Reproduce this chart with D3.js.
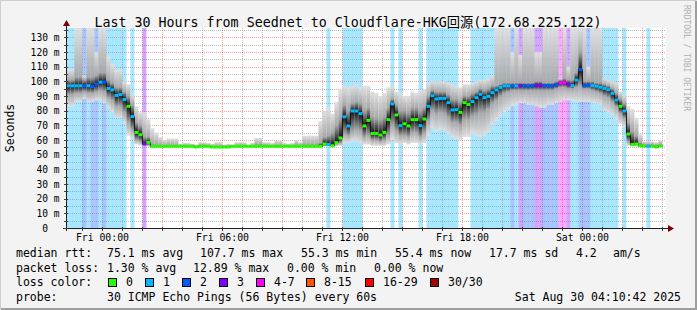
<!DOCTYPE html>
<html>
<head>
<meta charset="utf-8">
<script src="https://cdn.jsdelivr.net/npm/d3@7"></script>
<style>
  body { margin: 0; background: #f3f3f3; }
  svg { display: block; }
  text { font-family: "DejaVu Sans Mono", "Noto Sans CJK SC", monospace; white-space: pre; }
</style>
</head>
<body>
<svg id="chart" width="697" height="310"></svg>
<script>
// ---- data (one value per 12 minute step, first step starts Thu 22:12) ----
var graphEnd = new Date(2025, 7, 30, 4, 10, 42);
var graphStart = new Date(graphEnd.getTime() - 30 * 3600 * 1000);
var firstStep = new Date(2025, 7, 28, 22, 12, 0);
var stepMinutes = 12;

var median = [
  97, 97, 97, 97, 97, 97, 96.5, 98.2, 99.5, 99.5,
  95.2, 94.2, 90.4, 91, 87.6, 83, 76, 65.2, 63.6, 57.3,
  58.4, 55.7, 55.7, 55.7, 55.7, 55.7, 55.7, 55.7, 55.7, 55.7,
  55.7, 55.7, 55.2, 55.7, 55.7, 55.7, 55.2, 55.2, 55.2, 55.2,
  55.2, 55.7, 55.7, 55.7, 55.7, 55.7, 55.7, 55.7, 55.7, 55.7,
  55.7, 55.7, 55.7, 55.7, 55.7, 55.7, 55.7, 55.7, 55.7, 55.7,
  55.7, 55.7, 55.7, 55.7, 57.3, 57, 56.1, 58.2, 61.4, 75.8,
  69.6, 79.8, 79.8, 78, 69.6, 73.4, 64.5, 64.5, 63.4, 65.2,
  73.9, 84.6, 77.1, 69.8, 71.1, 69.6, 73.9, 73.9, 69.8, 74.3,
  83, 90.2, 88, 88.4, 88.4, 85.5, 80.5, 80.7, 78.9, 85.5,
  84.3, 86.2, 88.9, 91.2, 88.9, 89.8, 92.3, 94.1, 95.9, 96.9,
  96.9, 96.7, 96.9, 97.1, 97.1, 96.7, 97.1, 97.3, 97.3, 97.1,
  97.1, 97.1, 97.7, 98.9, 99.1, 98, 97.1, 100.9, 108, 97.1,
  97.4, 97.1, 96.7, 96, 95.2, 94.3, 91.8, 87.3, 83, 79.8,
  64.1, 57, 57.3, 56.1, 55.8, 55.8, 55.8, 55.2, 56
];

// lost pings (of 30) per step
var loss = [
  1, 1, 1, 1, 2, 1, 2, 2, 1, 2,
  1, 1, 1, 1, 1, 0, 1, 0, 0, 3,
  0, 0, 0, 0, 0, 0, 0, 0, 0, 0,
  0, 0, 0, 0, 0, 0, 0, 0, 0, 0,
  0, 0, 0, 0, 0, 0, 0, 0, 0, 0,
  0, 0, 0, 0, 0, 0, 0, 0, 0, 0,
  0, 0, 0, 0, 0, 1, 0, 0, 0, 1,
  1, 1, 1, 1, 0, 0, 0, 0, 0, 0,
  0, 1, 0, 1, 0, 0, 0, 0, 1, 0,
  1, 1, 1, 1, 1, 1, 1, 1, 0, 0,
  0, 1, 1, 1, 1, 1, 1, 1, 1, 1,
  1, 2, 1, 3, 2, 2, 2, 3, 3, 2,
  2, 2, 2, 4, 4, 3, 1, 1, 2, 2,
  2, 1, 1, 1, 1, 1, 1, 1, 0, 1,
  0, 0, 0, 0, 0, 1, 0, 0, 0
];

// smoke: lowest ping, lower quartile, upper quartile, highest ping
var smokeLo = [
  83, 83, 86, 86, 88, 86, 86, 87, 87, 85,
  82, 79, 75, 75, 71, 63, 61, 57, 56.5, 56,
  55.5, 55.3, 55.3, 55.3, 55.3, 55.3, 55.3, 55.3, 55.3, 55.3,
  55.3, 55.3, 55, 55.3, 55.3, 55.3, 55, 55, 55, 55,
  55, 55.3, 55.3, 55.3, 55.3, 55.3, 55.3, 55.3, 55.3, 55.3,
  55.3, 55.3, 55.3, 55.3, 55.3, 55.3, 55.3, 55.3, 55.3, 55.3,
  55.3, 55.3, 55.3, 55.3, 55.5, 55.5, 55.5, 56, 56, 58,
  58, 59, 59, 58, 57, 57, 56, 56, 56, 56,
  57, 60, 58, 57, 58, 57, 58, 58, 57, 58,
  63, 68, 66, 67, 66, 64, 62, 61, 60, 62,
  62, 64, 63, 62, 63, 65, 70, 73, 76, 79,
  81, 83, 84, 85, 85, 84, 84, 83, 82, 82,
  84, 84, 85, 86, 87, 87, 87, 86, 86, 86,
  86, 85, 85, 84, 80, 79, 77, 74, 71, 69,
  56, 55.5, 55.5, 55.3, 55.3, 55.3, 55.3, 55, 55.3
];
var smokeQ1 = [
  91, 91, 92, 92, 93, 92, 92, 93, 94, 93,
  89, 87, 83, 83, 79, 72, 67, 60, 59, 56.5,
  56.5, 55.5, 55.5, 55.5, 55.5, 55.5, 55.5, 55.5, 55.5, 55.5,
  55.5, 55.5, 55.1, 55.5, 55.5, 55.5, 55.1, 55.1, 55.1, 55.1,
  55.1, 55.5, 55.5, 55.5, 55.5, 55.5, 55.5, 55.5, 55.5, 55.5,
  55.5, 55.5, 55.5, 55.5, 55.5, 55.5, 55.5, 55.5, 55.5, 55.5,
  55.5, 55.5, 55.5, 55.5, 56, 56, 56, 57, 58, 64,
  63, 66, 67, 66, 62, 63, 60, 60, 59, 60,
  63, 70, 66, 63, 63, 62, 65, 65, 62, 65,
  73, 80, 78, 79, 78, 75, 72, 72, 70, 74,
  74, 76, 77, 79, 79, 81, 85, 87, 90, 92,
  93, 94, 94, 94, 94, 94, 94, 94, 94, 94,
  94, 94, 95, 96, 96, 95, 95, 96, 97, 95,
  95, 94, 93, 92, 90, 89, 86, 83, 78, 75,
  59, 56.5, 56.5, 55.8, 55.5, 55.5, 55.5, 55.1, 55.5
];
var smokeQ3 = [
  101, 101, 103, 103, 101, 103, 103, 104, 106, 106,
  101, 99, 96, 96, 93, 90, 84, 72, 70, 62,
  62, 57, 57, 56.5, 56.5, 56.8, 56.8, 56.5, 56.3, 56.3,
  56.3, 56.3, 56, 56.5, 56.5, 56.3, 56, 56, 56, 56,
  56, 56.3, 56.3, 56.5, 56.3, 56.3, 56.3, 57, 57, 56.5,
  56.5, 56.3, 56.5, 56.5, 56.3, 56.3, 56.3, 56.8, 56.5, 57,
  57, 57, 57, 58, 62, 63, 65, 70, 75, 84,
  80, 85, 86, 85, 80, 82, 76, 75, 74, 76,
  82, 88, 84, 80, 80, 79, 82, 82, 80, 82,
  90, 94, 93, 93, 93, 91, 88, 88, 86, 90,
  90, 92, 93, 95, 94, 95, 97, 97, 98, 99,
  99, 99, 99, 99, 99, 99, 99, 100, 100, 99,
  99, 99, 100, 101, 102, 101, 101, 106, 120, 100,
  100, 100, 99, 99, 98, 97, 95, 92, 88, 85,
  72, 66, 63, 58, 57, 57, 57, 56.5, 57
];
var smokeHi = [
  108, 108, 137, 137, 104, 137, 137, 120, 137, 137,
  117, 112, 108, 108, 100, 98, 91, 83, 79, 79,
  74, 68, 65, 62, 60, 61, 61, 61, 57.5, 58,
  58, 57.5, 57, 58.5, 58.5, 58, 57.5, 58.5, 58.5, 57,
  57.5, 57, 58.5, 58.5, 58.5, 57, 58, 61.5, 61.5, 58.5,
  58.5, 58, 59.5, 59.5, 58, 57.5, 58, 60, 58.5, 63,
  63, 63, 63, 73, 80, 82, 78, 86, 95, 97,
  96, 97, 98, 96, 97, 97, 93, 92, 90, 92,
  96, 97, 93, 92, 90, 90, 93, 92, 94, 95,
  99, 100, 100, 100, 100, 99, 98, 97, 96, 98,
  98, 99, 100, 101, 101, 102, 104, 137, 137, 137,
  137, 120, 137, 118, 137, 137, 137, 120, 120, 137,
  137, 137, 137, 102, 137, 110, 137, 137, 137, 137,
  110, 137, 137, 137, 102, 101, 100, 99, 93, 91,
  83, 81, 75, 64, 59, 59, 59, 58.5, 60
];

var yTicks = [0, 10, 20, 30, 40, 50, 60, 70, 80, 90, 100, 110, 120, 130];
var xLabelTimes = [new Date(2025, 7, 29, 0), new Date(2025, 7, 29, 6), new Date(2025, 7, 29, 12),
                   new Date(2025, 7, 29, 18), new Date(2025, 7, 30, 0)];

var lossLegend = [
  { label: "0", color: "#26ff00" },
  { label: "1", color: "#00b8ff" },
  { label: "2", color: "#0059ff" },
  { label: "3", color: "#7e00ff" },
  { label: "4-7", color: "#ff00ff" },
  { label: "8-15", color: "#ff5500" },
  { label: "16-29", color: "#ff0000" },
  { label: "30/30", color: "#a00000" }
];
var legendBoxX = [108, 145, 182, 219, 256, 306, 365, 430];

var rttRow = ["75.1 ms avg", "107.7 ms max", "55.3 ms min", "55.4 ms now", "17.7 ms sd", "4.2", "am/s"];
var rttX = [107, 200, 301, 395, 489, 576, 613];
var lossRow = ["1.30 % avg", "12.89 % max", "0.00 % min", "0.00 % now"];
var lossX = [107, 193, 287, 374];

// ---- drawing ----
var W = 697, H = 310;
var plotL = 66, plotR = 666, plotT = 28, plotB = 228;

var svg = d3.select("#chart");
var defs = svg.append("defs");

var x = d3.scaleTime().domain([graphStart, graphEnd]).range([plotL, plotR]);
var y = d3.scaleLinear().domain([0, 136.4]).range([plotB, plotT]).clamp(true);

function lossColor(n) {
  if (n >= 30) return "#a00000";
  if (n >= 16) return "#ff0000";
  if (n >= 8) return "#ff5500";
  if (n >= 4) return "#ff00ff";
  return ["#26ff00", "#00b8ff", "#0059ff", "#7e00ff"][n];
}

// background + frame shading
svg.append("rect").attr("width", W).attr("height", H).attr("fill", "#f3f3f3");
svg.append("path").attr("d", "M0.5,309.5V0.5H696.5").attr("fill", "none").attr("stroke", "#cfcfcf").attr("stroke-width", 1);
svg.append("path").attr("d", "M1,309H696V1").attr("fill", "none").attr("stroke", "#9e9e9e").attr("stroke-width", 2);

svg.append("rect").attr("x", plotL).attr("y", plotT).attr("width", plotR - plotL).attr("height", plotB - plotT)
  .attr("fill", "#ffffff");

var steps = median.map(function(m, i) {
  var t0 = new Date(firstStep.getTime() + i * stepMinutes * 60000);
  var t1 = new Date(t0.getTime() + stepMinutes * 60000);
  return { i: i, t0: t0, t1: t1, med: m, loss: loss[i],
           lo: smokeLo[i], q1: smokeQ1[i], q3: smokeQ3[i], hi: smokeHi[i] };
});

// grid (under the graph, rrdtool style)
var grid = svg.append("g").attr("fill", "none").attr("stroke-dasharray", "1,1").attr("shape-rendering", "crispEdges");
var hours = d3.timeHour.range(d3.timeHour.ceil(graphStart), graphEnd);
hours.forEach(function(h) {
  var major = h.getHours() % 3 === 0;
  var px = Math.round(x(h)) + 0.5;
  grid.append("line").attr("x1", px).attr("x2", px).attr("y1", plotT).attr("y2", plotB)
    .attr("stroke", major ? "rgba(255,0,0,0.38)" : "rgba(127,127,127,0.5)");
});
d3.range(5, 136, 5).forEach(function(v) {
  var major = v % 10 === 0;
  var py = Math.round(y(v)) + 0.5;
  grid.append("line").attr("x1", plotL).attr("x2", plotR).attr("y1", py).attr("y2", py)
    .attr("stroke", major ? "rgba(255,0,0,0.38)" : "rgba(127,127,127,0.5)");
});

var g = svg.append("g");

// loss bars, translucent
g.selectAll("rect.lossbar").data(steps.filter(function(d) { return d.loss > 0; }))
  .enter().append("rect")
  .attr("class", "lossbar")
  .attr("x", function(d) { return x(d.t0); })
  .attr("width", function(d) { return x(d.t1) - x(d.t0); })
  .attr("y", plotT).attr("height", plotB - plotT)
  .attr("fill", function(d) { return lossColor(d.loss); })
  .attr("fill-opacity", 0.35);

// smoke gradients
steps.forEach(function(d) {
  var top = y(d.hi), bot = y(d.lo), span = Math.max(bot - top, 0.01);
  var off = function(v) { return Math.min(1, Math.max(0, (y(v) - top) / span)); };
  var gr = defs.append("linearGradient").attr("id", "smoke" + d.i)
    .attr("gradientUnits", "userSpaceOnUse")
    .attr("x1", 0).attr("x2", 0).attr("y1", top).attr("y2", bot);
  [[0, "#e0e0e0"], [off(d.q3), "#a8a8a8"], [off(d.med), "#101010"], [off(d.q1), "#a8a8a8"], [1, "#e0e0e0"]]
    .forEach(function(s) { gr.append("stop").attr("offset", s[0]).attr("stop-color", s[1]); });
});

g.selectAll("rect.smoke").data(steps).enter().append("rect")
  .attr("class", "smoke")
  .attr("x", function(d) { return x(d.t0); })
  .attr("width", function(d) { return x(d.t1) - x(d.t0); })
  .attr("y", function(d) { return y(d.hi); })
  .attr("height", function(d) { return y(d.lo) - y(d.hi); })
  .attr("fill", function(d) { return "url(#smoke" + d.i + ")"; });

// median line + loss coloured markers
var last = steps[steps.length - 1];
var pts = steps.map(function(d) { return [x(d.t0), y(d.med)]; }).concat([[x(last.t1), y(last.med)]]);
svg.append("path").attr("d", d3.line().curve(d3.curveStepAfter)(pts))
  .attr("fill", "none").attr("stroke", "#101010").attr("stroke-width", 1);

svg.selectAll("rect.med").data(steps).enter().append("rect")
  .attr("class", "med")
  .attr("x", function(d) { return x(d.t0); })
  .attr("width", function(d) { return x(d.t1) - x(d.t0); })
  .attr("y", function(d) { return y(d.med) - 1.5; })
  .attr("height", 3)
  .attr("fill", function(d) { return lossColor(d.loss); });

// axes
var ax = svg.append("g").attr("shape-rendering", "crispEdges");
ax.append("line").attr("x1", plotL - 3).attr("x2", plotR + 3).attr("y1", plotB + 0.5).attr("y2", plotB + 0.5).attr("stroke", "#202020");
ax.append("line").attr("x1", plotL + 0.5).attr("x2", plotL + 0.5).attr("y1", plotB + 3).attr("y2", plotT - 3).attr("stroke", "#202020");
hours.forEach(function(h) {
  var px = Math.round(x(h)) + 0.5;
  ax.append("line").attr("x1", px).attr("x2", px).attr("y1", plotB - 1).attr("y2", plotB + 3).attr("stroke", "#404040");
});
d3.range(0, 136, 5).forEach(function(v) {
  var py = Math.round(y(v)) + 0.5;
  ax.append("line").attr("x1", plotL - 2).attr("x2", plotL + 2).attr("y1", py).attr("y2", py).attr("stroke", "#404040");
});
svg.append("path").attr("d", "M" + (plotR + 2) + "," + (plotB - 3) + "L" + (plotR + 8) + "," + (plotB + 0.5) + "L" + (plotR + 2) + "," + (plotB + 4) + "Z").attr("fill", "#7f0000");
svg.append("path").attr("d", "M" + (plotL - 3) + "," + (plotT - 2) + "L" + (plotL + 0.5) + "," + (plotT - 8) + "L" + (plotL + 4) + "," + (plotT - 2) + "Z").attr("fill", "#7f0000");

// axis labels
svg.selectAll("text.ylab").data(yTicks).enter().append("text")
  .attr("class", "ylab")
  .attr("x", 59.5)
  .attr("y", function(v) { return y(v) + 3.5; })
  .attr("text-anchor", "end")
  .attr("font-size", 9.6)
  .attr("fill", "#000")
  .text(function(v) { return v === 0 ? "0\u00a0\u00a0" : v + " m"; });

var fmt = d3.timeFormat("%a %H:%M");
svg.selectAll("text.xlab").data(xLabelTimes).enter().append("text")
  .attr("class", "xlab")
  .attr("x", function(t) { return x(t); })
  .attr("y", 241)
  .attr("text-anchor", "middle")
  .attr("font-size", 9.8)
  .attr("fill", "#000")
  .text(fmt);

svg.append("text").attr("x", 348).attr("y", 26.5).attr("text-anchor", "middle")
  .attr("font-size", 13.3).attr("fill", "#000")
  .text("Last 30 Hours from Seednet to Cloudflare-HKG回源(172.68.225.122)");

svg.append("text").attr("transform", "translate(14,128) rotate(-90)").attr("text-anchor", "middle")
  .attr("font-size", 11.5).attr("fill", "#000").text("Seconds");

svg.append("text").attr("transform", "translate(684,5) rotate(90)").attr("text-anchor", "start")
  .attr("font-size", 8).attr("fill", "#b0b0b0").text("RRDTOOL / TOBI OETIKER");

// legend
var lg = svg.append("g").attr("font-size", 11.5).attr("fill", "#000");
lg.append("text").attr("x", 16).attr("y", 257).text("median rtt:");
rttRow.forEach(function(s, i) { lg.append("text").attr("x", rttX[i]).attr("y", 257).text(s); });
lg.append("text").attr("x", 16).attr("y", 272).text("packet loss:");
lossRow.forEach(function(s, i) { lg.append("text").attr("x", lossX[i]).attr("y", 272).text(s); });
lg.append("text").attr("x", 16).attr("y", 286).text("loss color:");
lossLegend.forEach(function(d, i) {
  lg.append("rect").attr("x", legendBoxX[i] + 0.5).attr("y", 278.5).attr("width", 8).attr("height", 8)
    .attr("fill", d.color).attr("stroke", "#000").attr("stroke-width", 1);
  lg.append("text").attr("x", legendBoxX[i] + 18).attr("y", 286).text(d.label);
});
lg.append("text").attr("x", 16).attr("y", 301).text("probe:");
lg.append("text").attr("x", 107).attr("y", 301).text("30 ICMP Echo Pings (56 Bytes) every 60s");
lg.append("text").attr("x", 681).attr("y", 301).attr("text-anchor", "end").text("Sat Aug 30 04:10:42 2025");
</script>
</body>
</html>
